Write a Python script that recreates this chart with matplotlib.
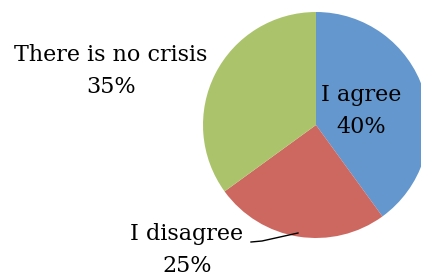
import matplotlib
matplotlib.use("Agg")
import matplotlib.pyplot as plt

labels = ["I agree", "I disagree", "There is no crisis"]
values = [40, 25, 35]
colors = ["#6397CD", "#CD6860", "#ABC46B"]

W, H = 421, 280
fig = plt.figure(figsize=(W / 100, H / 100), dpi=100)
ax = fig.add_axes([0, 0, 1, 1])

cx, cy, r = 316, H - 125, 113
ax.pie(values, colors=colors, startangle=90, counterclock=False,
       center=(cx, cy), radius=r, frame=True,
       wedgeprops=dict(linewidth=0))
ax.set_xlim(0, W)
ax.set_ylim(0, H)
ax.set_aspect("equal")
ax.axis("off")

font = dict(family="DejaVu Serif", fontsize=16, color="black",
            ha="center", va="center", linespacing=1.62)
pos = {"I agree": (361, H - 111),
       "I disagree": (187, H - 250),
       "There is no crisis": (111, H - 71)}
for lab, v in zip(labels, values):
    x, y = pos[lab]
    ax.text(x, y, f"{lab}\n{v}%", **font)

ax.plot([251, 262, 298], [H - 242, H - 241, H - 233], color="black", lw=1)

fig.savefig("out.png", dpi=100)
